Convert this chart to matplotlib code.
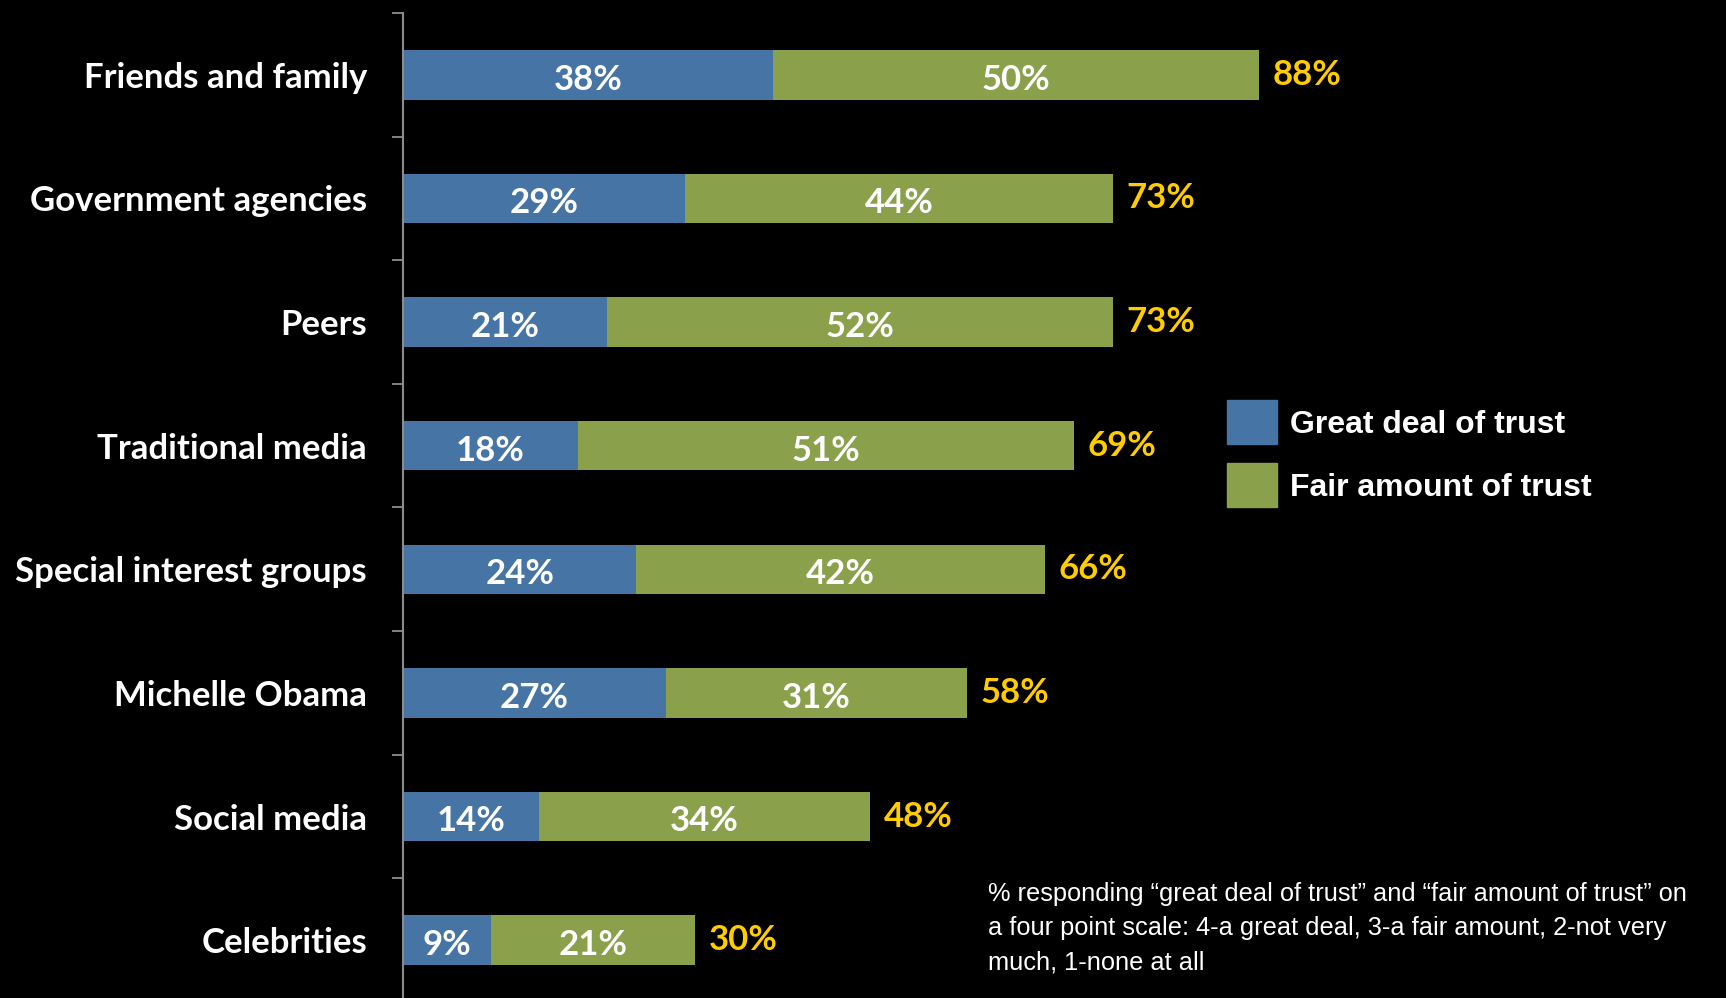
import matplotlib.pyplot as plt
from matplotlib.patches import Patch

categories = ['Friends and family', 'Government agencies', 'Peers', 'Traditional media',
              'Special interest groups', 'Michelle Obama', 'Social media', 'Celebrities']
great_deal = [38, 29, 21, 18, 24, 27, 14, 9]
fair_amount = [50, 44, 52, 51, 42, 31, 34, 21]
totals = [88, 73, 73, 69, 66, 58, 48, 30]

blue = '#4674a5'
green = '#8aa04b'
gold = '#ffcc00'
label_font = ['Lato', 'DejaVu Sans']

fig = plt.figure(figsize=(17.26, 9.98), dpi=100, facecolor='black')
ax = fig.add_axes([0.2335, -0.004, 0.7665, 0.991])
ax.set_facecolor('black')

y = range(len(categories))
ax.barh(y, great_deal, height=0.4, color=blue)
ax.barh(y, fair_amount, left=great_deal, height=0.4, color=green)

for i in y:
    g, f, t = great_deal[i], fair_amount[i], totals[i]
    ax.text(g / 2, i + 0.04, f'{g}%', ha='center', va='center', color='white',
            fontsize=25, fontweight='bold', family=label_font)
    ax.text(g + f / 2, i + 0.04, f'{f}%', ha='center', va='center', color='white',
            fontsize=25, fontweight='bold', family=label_font)
    ax.text(t + 1.4, i + 0.0, f'{t}%', ha='left', va='center', color=gold,
            fontsize=25, fontweight='bold', family=label_font)

ax.set_xlim(0, 136)
ax.set_ylim(7.5, -0.5)
ax.set_xticks([])
ax.set_yticks(list(y))
ax.set_yticklabels(categories, color='white', fontsize=25, fontweight='bold', family=label_font)
for lbl in ax.get_yticklabels():
    lbl.set_va('center_baseline')
ax.set_yticks([k - 0.5 for k in range(len(categories) + 1)], minor=True)
ax.tick_params(axis='y', which='major', length=0, pad=26)
ax.tick_params(axis='y', which='minor', length=8, width=1.3, color='#8c8c8c')

for side in ['top', 'right', 'bottom']:
    ax.spines[side].set_visible(False)
ax.spines['left'].set_color('#8c8c8c')
ax.spines['left'].set_linewidth(1.5)

handles = [Patch(color=blue, label='Great deal of trust'),
           Patch(color=green, label='Fair amount of trust')]
leg = fig.legend(handles=handles, loc='upper left', bbox_to_anchor=(0.711, 0.599),
                 frameon=False, borderpad=0, borderaxespad=0, handlelength=1.56,
                 handleheight=1.74, handletextpad=0.4, labelspacing=0.6,
                 prop={'family': ['Liberation Sans', 'DejaVu Sans'], 'weight': 'bold', 'size': 23})
for txt in leg.get_texts():
    txt.set_color('white')

note = ('% responding \u201cgreat deal of trust\u201d and \u201cfair amount of trust\u201d on\n'
        'a four point scale: 4-a great deal, 3-a fair amount, 2-not very\n'
        'much, 1-none at all')
fig.text(0.5724, 0.116, note, ha='left', va='top', color='white', fontsize=18.3,
         family=['Liberation Sans', 'DejaVu Sans'], linespacing=1.53)

fig.savefig('out.png', dpi=100, facecolor='black')
